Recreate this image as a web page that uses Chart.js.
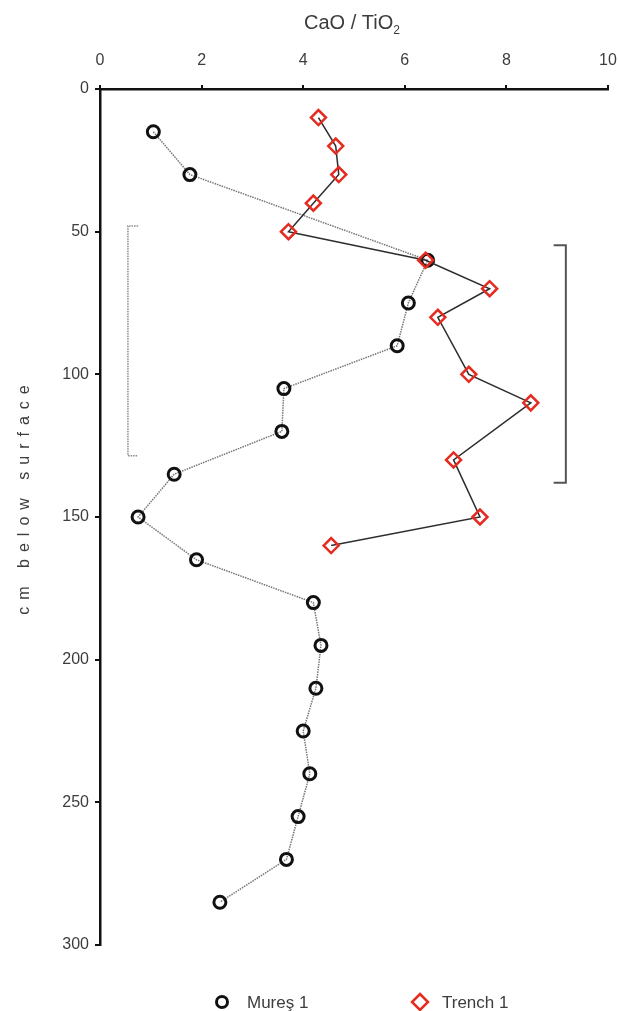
<!DOCTYPE html>
<html>
<head>
<meta charset="utf-8">
<script src="https://cdn.jsdelivr.net/npm/chart.js@4/dist/chart.umd.min.js"></script>
<style>
  html, body { margin: 0; padding: 0; background: #fff; }
  #wrap { width: 619px; height: 1011px; }
</style>
</head>
<body>
<div id="wrap"><canvas id="chart" width="619" height="1011"></canvas></div>
<script>
// Mureş 1 profile
const muresDepth = [15, 30, 60, 75, 90, 105, 120, 135, 150, 165, 180, 195, 210, 225, 240, 255, 270, 285];
const muresRatio = [1.05, 1.77, 6.45, 6.07, 5.85, 3.62, 3.58, 1.46, 0.75, 1.9, 4.2, 4.35, 4.25, 4.0, 4.13, 3.9, 3.67, 2.36];

// Trench 1 profile
const trenchDepth = [10, 20, 30, 40, 50, 60, 70, 80, 100, 110, 130, 150, 160];
const trenchRatio = [4.3, 4.64, 4.7, 4.2, 3.71, 6.41, 7.67, 6.65, 7.26, 8.48, 6.96, 7.48, 4.55];

// bracket marks (x, depth)
const leftBracketX = [0.75, 0.55, 0.55, 0.75];
const leftBracketY = [48, 48, 128.5, 128.5];
const rightBracketX = [8.93, 9.17, 9.17, 8.93];
const rightBracketY = [54.8, 54.8, 138, 138];

const xTicks = [0, 2, 4, 6, 8, 10];
const yTicks = [0, 50, 100, 150, 200, 250, 300];

const seriesNames = ['Mureş 1', 'Trench 1'];
const textColor = '#3d3d3d';
const red = '#e52a20';
const FONT = '"Liberation Sans", Arial, sans-serif';

const pts = (xs, ys) => xs.map((x, i) => ({ x: x, y: ys[i] }));

// titles, legend drawn by hand (letter spacing, subscript)
const decor = {
    id: 'decor',
    afterDraw(chart) {
        const ctx = chart.ctx;
        ctx.save();
        ctx.fillStyle = textColor;

        // x title with subscript
        ctx.font = '20px ' + FONT;
        const main = 'CaO / TiO';
        const w = ctx.measureText(main).width;
        ctx.font = '12px ' + FONT;
        const w2 = ctx.measureText('2').width;
        const x0 = 352 - (w + w2) / 2;
        ctx.font = '20px ' + FONT;
        ctx.fillText(main, x0, 29);
        ctx.font = '12px ' + FONT;
        ctx.fillText('2', x0 + w, 34);

        // y title, spaced out
        ctx.translate(29, 500);
        ctx.rotate(-Math.PI / 2);
        ctx.font = '16px ' + FONT;
        ctx.letterSpacing = '7px';
        ctx.textAlign = 'center';
        ctx.fillText('cm below surface', 3.5, 0);
        ctx.restore();

        // legend
        ctx.save();
        ctx.font = '17px ' + FONT;
        ctx.fillStyle = textColor;
        ctx.textBaseline = 'middle';
        ctx.lineWidth = 3;
        ctx.strokeStyle = '#111';
        ctx.beginPath();
        ctx.arc(222, 1002, 5.5, 0, Math.PI * 2);
        ctx.stroke();
        ctx.fillText(seriesNames[0], 247, 1003);

        ctx.strokeStyle = red;
        ctx.lineWidth = 2.5;
        ctx.beginPath();
        ctx.moveTo(420, 994);
        ctx.lineTo(428, 1002);
        ctx.lineTo(420, 1010);
        ctx.lineTo(412, 1002);
        ctx.closePath();
        ctx.stroke();
        ctx.fillText(seriesNames[1], 442, 1003);
        ctx.restore();
    }
};

new Chart(document.getElementById('chart'), {
    type: 'scatter',
    data: {
        datasets: [
            {
                label: 'left bracket',
                data: pts(leftBracketX, leftBracketY),
                showLine: true,
                borderColor: '#8a8a8a',
                borderWidth: 1.5,
                borderDash: [1.5, 1],
                pointRadius: 0
            },
            {
                label: 'right bracket',
                data: pts(rightBracketX, rightBracketY),
                showLine: true,
                borderColor: '#555',
                borderWidth: 2,
                pointRadius: 0
            },
            {
                label: seriesNames[1],
                data: pts(trenchRatio, trenchDepth),
                showLine: true,
                borderColor: '#2e2e2e',
                borderWidth: 1.5,
                pointStyle: 'rectRot',
                pointRadius: 7.5,
                pointBorderColor: red,
                pointBackgroundColor: 'rgba(0,0,0,0)',
                pointBorderWidth: 2.5
            },
            {
                label: seriesNames[0],
                data: pts(muresRatio, muresDepth),
                showLine: true,
                borderColor: '#777',
                borderWidth: 1.5,
                borderDash: [1.5, 1],
                pointStyle: 'circle',
                pointRadius: 6,
                pointBorderColor: '#111',
                pointBackgroundColor: 'rgba(0,0,0,0)',
                pointBorderWidth: 3
            }
        ]
    },
    options: {
        responsive: false,
        animation: false,
        layout: { padding: { left: 0, right: 0, top: 0, bottom: 66 } },
        plugins: {
            legend: { display: false },
            tooltip: { enabled: false }
        },
        scales: {
            x: {
                type: 'linear',
                position: 'top',
                min: 0,
                max: 10,
                afterBuildTicks: (s) => { s.ticks = xTicks.map(v => ({ value: v })); },
                // the "10" label runs off the right edge, as in the original
                afterFit: (s) => { s.height = 89; s.paddingRight = 11; s.paddingLeft = 0; },
                border: { color: '#111', width: 2.5 },
                grid: { drawOnChartArea: false, drawTicks: true, tickLength: 4, color: '#111', lineWidth: 2 },
                ticks: { color: textColor, padding: 15, font: { size: 16, family: FONT } }
            },
            y: {
                type: 'linear',
                reverse: true,
                min: 0,
                max: 300,
                afterBuildTicks: (s) => { s.ticks = yTicks.map(v => ({ value: v })); },
                afterFit: (s) => { s.width = 100; },
                border: { color: '#111', width: 2.5 },
                grid: { drawOnChartArea: false, drawTicks: true, tickLength: 5, color: '#111', lineWidth: 2 },
                ticks: { color: textColor, padding: 6, font: { size: 16, family: FONT } }
            }
        }
    },
    plugins: [decor]
});
</script>
</body>
</html>
